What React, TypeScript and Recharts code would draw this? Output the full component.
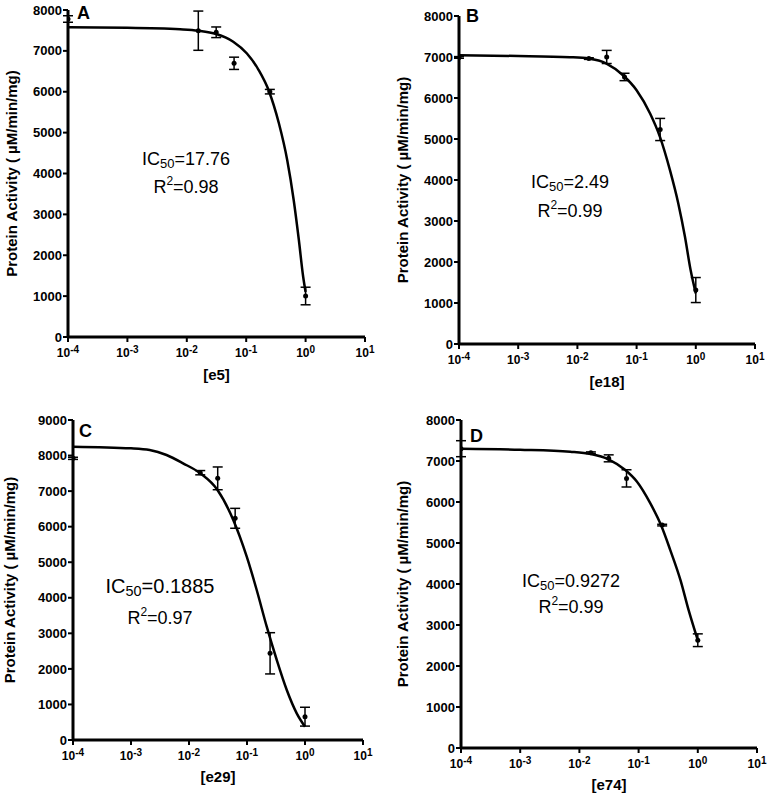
import React from 'react';
import { ComposedChart, Line, Scatter, XAxis, YAxis, ErrorBar } from 'recharts';

const FONT = '"Liberation Sans", Arial, Helvetica, sans-serif';

// shared concentrations (log axis; first point plotted at 10^-4)
const concentrations = [0.0001, 0.015625, 0.03125, 0.0625, 0.25, 1];
const xTicks = [0.0001, 0.001, 0.01, 0.1, 1, 10];
const xTickExponents = ['-4', '-3', '-2', '-1', '0', '1'];
const yTicks8000 = [0, 1000, 2000, 3000, 4000, 5000, 6000, 7000, 8000];
const yTicks9000 = [0, 1000, 2000, 3000, 4000, 5000, 6000, 7000, 8000, 9000];

// Panel A: e5
const meanA = [7780, 7494, 7455, 6696, 6002, 1003];
const sdA = [80, 480, 130, 150, 55, 215];
const fitXA = [0.0001, 0.001, 0.00769, 0.0156, 0.0313, 0.0605, 0.102, 0.162, 0.24, 0.355, 0.49, 0.63, 0.77, 0.91, 1.0];
const fitYA = [7575, 7565, 7528, 7494, 7413, 7225, 6941, 6532, 6026, 5228, 4330, 3352, 2373, 1475, 1100];

// Panel B: e18
const meanB = [6990, 6962, 7001, 6513, 5232, 1316];
const sdB = [20, 20, 160, 90, 270, 305];
const fitXB = [0.0001, 0.001, 0.0075, 0.0156, 0.031, 0.059, 0.1, 0.169, 0.248, 0.366, 0.506, 0.656, 0.817, 1.0];
const fitYB = [7040, 7025, 6995, 6962, 6840, 6555, 6189, 5622, 5052, 4240, 3428, 2615, 1803, 1235];

// Panel C: e29
const meanC = [7922, 7518, 7359, 6235, 2438, 656];
const sdC = [30, 60, 320, 280, 580, 265];
const fitXC = [0.0001, 0.001, 0.0021, 0.0041, 0.0079, 0.0156, 0.031, 0.058, 0.099, 0.147, 0.219, 0.326, 0.485, 0.72, 1.0];
const fitYC = [8250, 8203, 8156, 8016, 7782, 7501, 7031, 6188, 5155, 4219, 3187, 2250, 1406, 750, 375];

// Panel D: e74
const meanD = [7300, 7202, 7065, 6576, 5437, 2629];
const sdD = [195, 20, 85, 210, 20, 155];
const fitXD = [0.0001, 0.001, 0.007, 0.0156, 0.031, 0.0596, 0.094, 0.158, 0.239, 0.343, 0.51, 0.70, 1.0];
const fitYD = [7300, 7275, 7226, 7170, 7040, 6779, 6494, 5966, 5437, 4826, 4094, 3362, 2629];

const compoundNames = ['[e5]', '[e18]', '[e29]', '[e74]'];
const panelLetters = ['A', 'B', 'C', 'D'];
const ic50Values = ['17.76', '2.49', '0.1885', '0.9272'];
const r2Values = ['0.98', '0.99', '0.97', '0.99'];
const yLabel = 'Protein Activity ( µM/min/mg)';

const toPoints = (xs: number[], ys: number[], es?: number[]) =>
  xs.map((x, i) => (es ? { x, y: ys[i], err: es[i] } : { x, y: ys[i] }));

// layout (page coordinates)
const layouts = [
  { ox: 0, oy: 0, w: 384, h: 398, pl: 68, pt: 10, pr: 365, pb: 337, ylOff: 12, xlOff: 18, yMax: 8000 },
  { ox: 384, oy: 0, w: 385, h: 398, pl: 459, pt: 16, pr: 755, pb: 344, ylOff: 19, xlOff: 11, yMax: 8000 },
  { ox: 0, oy: 398, w: 384, h: 399, pl: 73, pt: 420, pr: 363, pb: 740, ylOff: 10, xlOff: 15, yMax: 9000 },
  { ox: 384, oy: 398, w: 385, h: 399, pl: 461, pt: 420, pr: 757, pb: 748, ylOff: 19, xlOff: 7, yMax: 8000 },
];

const annot = [
  { lx: 77, ly: 19, cx: 186, icY: 165, rY: 193, icSize: 18 },
  { lx: 466, ly: 22, cx: 570, icY: 188, rY: 217, icSize: 18 },
  { lx: 79, ly: 437, cx: 160, icY: 593, rY: 624, icSize: 20 },
  { lx: 470, ly: 442, cx: 571, icY: 587, rY: 613, icSize: 18 },
];

const LogTick = (props: any) => {
  const { x, y, index } = props;
  return (
    <text x={x} y={y} dy={12.7} textAnchor="middle" fontFamily={FONT} fontWeight="bold" fontSize={12} fill="#000">
      10
      <tspan dy={-4} fontSize={10}>{xTickExponents[index]}</tspan>
    </text>
  );
};

const DotShape = (props: any) => <circle cx={props.cx} cy={props.cy} r={2.5} fill="#000" />;

function Panel({ idx, points, fit, yTicks }: { idx: number; points: any[]; fit: any[]; yTicks: number[] }) {
  const L = layouts[idx];
  const yw = L.pl - L.ox;
  const top = L.pt - L.oy;
  const right = L.ox + L.w - L.pr;
  const xh = L.oy + L.h - L.pb;
  return (
    <div style={{ position: 'absolute', left: L.ox, top: L.oy, width: L.w, height: L.h }}>
      <ComposedChart width={L.w} height={L.h} margin={{ top, right, left: 0, bottom: 0 }}>
        <XAxis
          dataKey="x"
          type="number"
          scale="log"
          domain={[0.0001, 10]}
          ticks={xTicks}
          interval={0}
          allowDataOverflow
          height={xh}
          axisLine={{ stroke: '#000', strokeWidth: 3 }}
          tickLine={{ stroke: '#000', strokeWidth: 2 }}
          tickSize={5}
          tickMargin={2}
          tick={(p: any) => <LogTick {...p} />}
          label={{
            value: compoundNames[idx],
            position: 'insideBottom',
            offset: L.xlOff,
            style: { fill: '#000', fontWeight: 'bold', fontSize: 15, fontFamily: FONT },
          }}
        />
        <YAxis
          type="number"
          domain={[0, L.yMax]}
          ticks={yTicks}
          interval={0}
          allowDataOverflow
          width={yw}
          axisLine={{ stroke: '#000', strokeWidth: 3 }}
          tickLine={{ stroke: '#000', strokeWidth: 2 }}
          tickSize={5}
          tickMargin={1}
          tick={{ fill: '#000', fontSize: 13, fontWeight: 'bold', fontFamily: FONT }}
          label={{
            value: yLabel,
            angle: -90,
            position: 'insideLeft',
            offset: L.ylOff,
            style: { fill: '#000', fontWeight: 'bold', fontSize: 15, fontFamily: FONT, textAnchor: 'middle' },
          }}
        />
        <Line data={fit} dataKey="y" type="monotone" stroke="#000" strokeWidth={2.5} dot={false} activeDot={false} isAnimationActive={false} />
        <Scatter data={points} dataKey="y" shape={DotShape} isAnimationActive={false}>
          <ErrorBar dataKey="err" direction="y" width={5} stroke="#000" strokeWidth={1.5} isAnimationActive={false} />
        </Scatter>
      </ComposedChart>
    </div>
  );
}

export default function App() {
  const panels = [
    { points: toPoints(concentrations, meanA, sdA), fit: toPoints(fitXA, fitYA), yTicks: yTicks8000 },
    { points: toPoints(concentrations, meanB, sdB), fit: toPoints(fitXB, fitYB), yTicks: yTicks8000 },
    { points: toPoints(concentrations, meanC, sdC), fit: toPoints(fitXC, fitYC), yTicks: yTicks9000 },
    { points: toPoints(concentrations, meanD, sdD), fit: toPoints(fitXD, fitYD), yTicks: yTicks8000 },
  ];
  return (
    <div style={{ position: 'absolute', left: 0, top: 0, width: 769, height: 797, background: '#fff', overflow: 'hidden' }}>
      {panels.map((p, i) => (
        <Panel key={i} idx={i} points={p.points} fit={p.fit} yTicks={p.yTicks} />
      ))}
      <svg width={769} height={797} style={{ position: 'absolute', left: 0, top: 0, pointerEvents: 'none' }}>
        {annot.map((a, i) => (
          <g key={i} fontFamily={FONT} fill="#000">
            <text x={a.lx} y={a.ly} fontSize={18} fontWeight="bold">{panelLetters[i]}</text>
            <text x={a.cx} y={a.icY} fontSize={a.icSize} textAnchor="middle">
              IC<tspan dy={3} fontSize={a.icSize * 0.72}>50</tspan>
              <tspan dy={-3}>={ic50Values[i]}</tspan>
            </text>
            <text x={a.cx} y={a.rY} fontSize={18} textAnchor="middle">
              R<tspan dy={-8} fontSize={12}>2</tspan>
              <tspan dy={8}>={r2Values[i]}</tspan>
            </text>
          </g>
        ))}
      </svg>
    </div>
  );
}
